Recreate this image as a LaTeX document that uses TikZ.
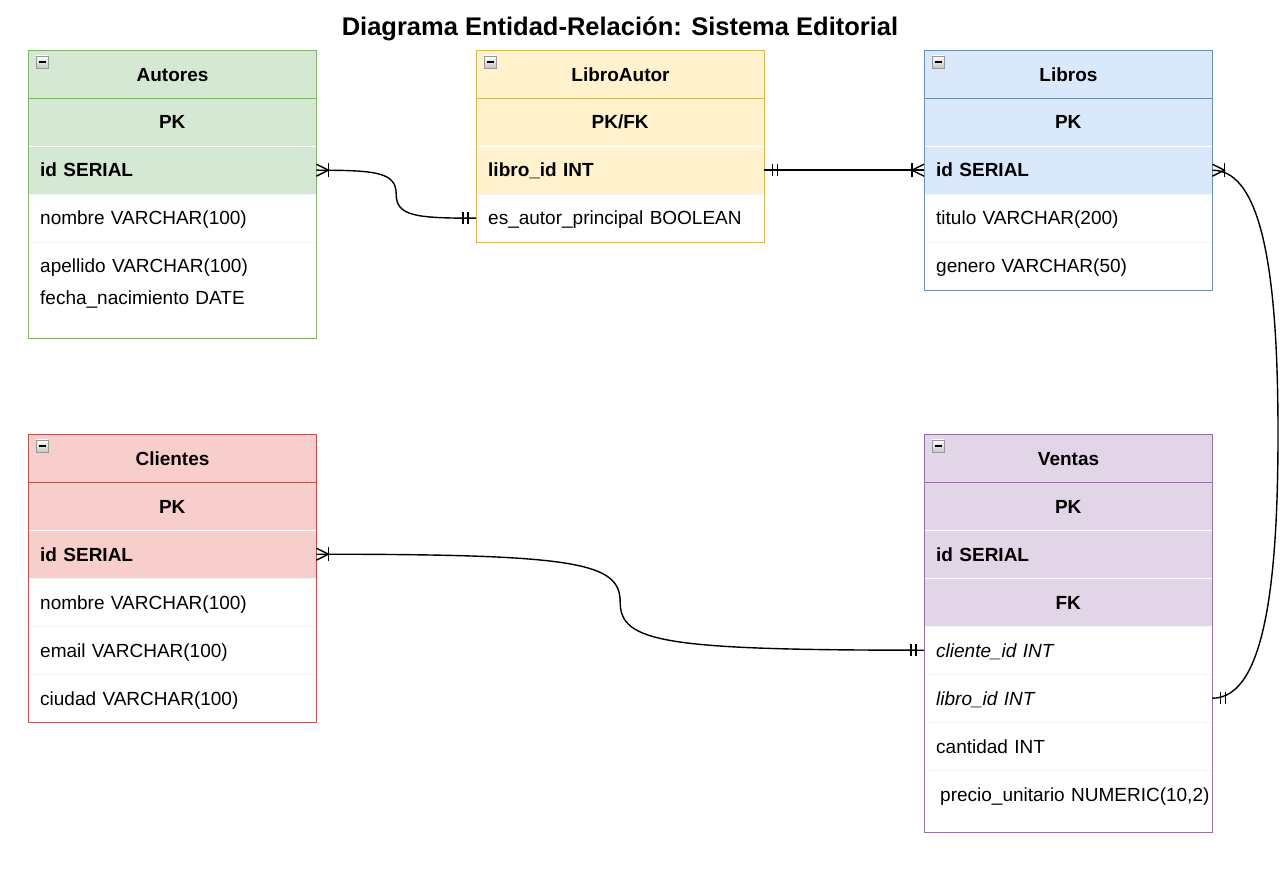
\documentclass[tikz,border=0pt]{standalone}
\usepackage{fontspec}
\setmainfont{Liberation Sans}
\usepackage{xcolor}
\usepackage{tikz}
\usetikzlibrary{calc}

\definecolor{verdeF}{HTML}{D5E8D4}
\definecolor{verdeB}{HTML}{82B366}
\definecolor{gialloF}{HTML}{FFF2CC}
\definecolor{gialloB}{HTML}{D6B656}
\definecolor{bluF}{HTML}{DAE8FC}
\definecolor{bluB}{HTML}{6C8EBF}
\definecolor{rossoF}{HTML}{F8CECC}
\definecolor{rossoB}{HTML}{B85450}
\definecolor{violaF}{HTML}{E1D5E7}
\definecolor{violaB}{HTML}{9673A6}

\begin{document}
\begin{tikzpicture}[x=1pt,y=-1pt,
    riga/.style={anchor=north west, minimum width=288pt, minimum height=48pt,
      inner xsep=12pt, inner ysep=0pt, text width=264pt, align=left,
      text height=13.6pt, text depth=0pt,
      draw=black!4, font=\fontsize{19}{22}\selectfont},
    campo/.style={riga, draw=white, font=\fontsize{19}{22}\selectfont\bfseries},
    chiave/.style={campo, align=center},
    testa/.style={chiave, line width=1pt},
    corsivo/.style={riga, font=\fontsize{19}{22}\selectfont\itshape},
    linea/.style={line width=1.4pt},
    piega/.pic={\draw[gray!80, top color=white, bottom color=gray!45] (8,6) rectangle (20,18);
      \draw[line width=1.4pt] (10.5,12) -- (17.5,12);},
    molti/.pic={\draw[linea] (0,-6) -- (12,0) -- (0,6); \draw[linea] (12,-7) -- (12,7);},
    uno/.pic={\draw[linea] (8,-6) -- (8,6); \draw[linea] (13,-6) -- (13,6);}
  ]
                \useasboundingbox (0,0) rectangle (1288,874);

                % Titolo
                \node[font=\bfseries\fontsize{25.5}{30}\selectfont, text height=18.3pt, text depth=0pt] (titolo) at (620,26) {Diagrama Entidad-Relación: Sistema Editorial};

                % Autores
                \node[chiave, fill=verdeF] (autores-pk) at (28,98) {PK};
                \node[campo, fill=verdeF] (autores-id) at (28,146) {id SERIAL};
                \node[riga] (autores-nome) at (28,194) {nombre VARCHAR(100)};
                \node[riga, draw=none] (autores-cogn) at (28,242) {apellido VARCHAR(100)};
                \node[riga, draw=none] (autores-nasc) at (28,274) {fecha\_nacimiento DATE};
                \node[testa, fill=verdeF, draw=verdeB] (autores-h) at (28,50) {Autores};
                \draw[verdeB] (autores-h.north west) rectangle (316,338);
                \pic at (autores-h.north west) {piega};

                % LibroAutor
                \node[chiave, fill=gialloF] (libaut-pk) at (476,98) {PK/FK};
                \node[campo, fill=gialloF] (libaut-libro) at (476,146) {libro\_id INT};
                \node[riga] (libaut-princ) at (476,194) {es\_autor\_principal BOOLEAN};
                \node[testa, fill=gialloF, draw=gialloB] (libaut-h) at (476,50) {LibroAutor};
                \draw[gialloB] (libaut-h.north west) rectangle (764,242);
                \pic at (libaut-h.north west) {piega};

                % Libros
                \node[chiave, fill=bluF] (libros-pk) at (924,98) {PK};
                \node[campo, fill=bluF] (libros-id) at (924,146) {id SERIAL};
                \node[riga] (libros-tit) at (924,194) {titulo VARCHAR(200)};
                \node[riga] (libros-gen) at (924,242) {genero VARCHAR(50)};
                \node[testa, fill=bluF, draw=bluB] (libros-h) at (924,50) {Libros};
                \draw[bluB] (libros-h.north west) rectangle (1212,290);
                \pic at (libros-h.north west) {piega};

                % Clientes
                \node[chiave, fill=rossoF] (clienti-pk) at (28,482) {PK};
                \node[campo, fill=rossoF] (clienti-id) at (28,530) {id SERIAL};
                \node[riga] (clienti-nome) at (28,578) {nombre VARCHAR(100)};
                \node[riga] (clienti-mail) at (28,626) {email VARCHAR(100)};
                \node[riga] (clienti-citta) at (28,674) {ciudad VARCHAR(100)};
                \node[testa, fill=rossoF, draw=rossoB] (clienti-h) at (28,434) {Clientes};
                \draw[rossoB] (clienti-h.north west) rectangle (316,722);
                \pic at (clienti-h.north west) {piega};

                % Ventas
                \node[chiave, fill=violaF] (vendite-pk) at (924,482) {PK};
                \node[campo, fill=violaF] (vendite-id) at (924,530) {id SERIAL};
                \node[chiave, fill=violaF] (vendite-fk) at (924,578) {FK};
                \node[corsivo] (vendite-cli) at (924,626) {cliente\_id INT};
                \node[corsivo] (vendite-libro) at (924,674) {libro\_id INT};
                \node[riga] (vendite-qta) at (924,722) {cantidad INT};
                \node[riga, draw=none, inner xsep=16pt, text width=272pt] (vendite-prezzo) at (924,770) {precio\_unitario NUMERIC(10,2)};
                \node[testa, fill=violaF, draw=violaB] (vendite-h) at (924,434) {Ventas};
                \draw[violaB] (vendite-h.north west) rectangle (1212,832);
                \pic at (vendite-h.north west) {piega};

                % Relazioni
                \coordinate (m1) at ($(autores-id.east)!0.5!(libaut-princ.west)$);
                \draw[linea] (autores-id.east) .. controls +(60,0) and +(0,-22) .. (m1)
                    .. controls +(0,22) and +(-60,0) .. (libaut-princ.west);
                \pic at (autores-id.east) {molti};
                \pic[rotate=180] at (libaut-princ.west) {uno};

                \draw[linea] (libaut-libro.east) -- (libros-id.west);
                \pic at (libaut-libro.east) {uno};
                \pic[rotate=180] at (libros-id.west) {molti};

                \coordinate (arco) at (1278,434);
                \draw[linea] (libros-id.east) .. controls +(52,0) and +(0,-150) .. (arco)
                    .. controls +(0,150) and +(52,0) .. (vendite-libro.east);
                \pic at (libros-id.east) {molti};
                \pic at (vendite-libro.east) {uno};

                \coordinate (m2) at ($(clienti-id.east)!0.5!(vendite-cli.west)$);
                \draw[linea] (clienti-id.east) .. controls +(260,0) and +(0,-40) .. (m2)
                    .. controls +(0,40) and +(-260,0) .. (vendite-cli.west);
                \pic at (clienti-id.east) {molti};
                \pic[rotate=180] at (vendite-cli.west) {uno};

        \end{tikzpicture}
\end{document}
